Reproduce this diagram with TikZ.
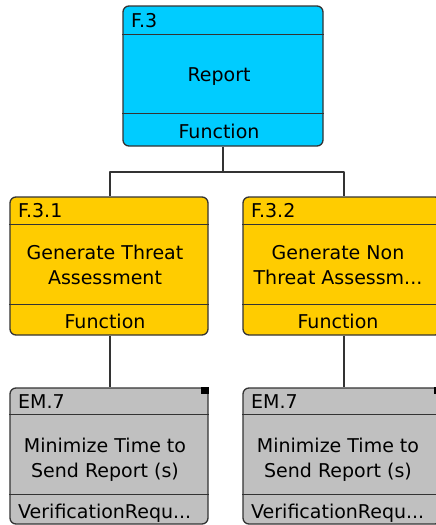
\documentclass[tikz,border=0pt]{standalone}
\usepackage{fontspec}
\setmainfont{DejaVu Sans}
\usetikzlibrary{positioning}
\definecolor{fncyan}{RGB}{0,204,255}
\definecolor{fnyellow}{RGB}{255,204,0}
\definecolor{emgray}{RGB}{192,192,192}
\definecolor{edgegray}{RGB}{51,51,51}

\begin{document}
\begin{tikzpicture}[x=1pt,y=-1pt,line join=bevel,
  fnbox/.style={draw=edgegray,line width=1.3pt,rounded corners=6pt,minimum width=198pt,inner sep=0pt},
  wire/.style={draw=edgegray,line width=1.3pt},
  txt/.style={inner sep=0pt,font=\fontsize{19}{25}\selectfont,align=center},
  idtxt/.style={txt,anchor=base west}]
%%
\useasboundingbox (0,0) rectangle (436,525);
\clip (0,0) rectangle (436,525);
%
\node (f_3) at (223,76) [fnbox,fill=fncyan,minimum width=200pt,minimum height=140pt] {};
  \node (f_3_1) at (109,266) [fnbox,fill=fnyellow,minimum height=138pt] {};
  \node (f_3_2) at (342,266) [fnbox,fill=fnyellow,minimum height=138pt] {};
  \node (em_7a) at (109,456) [fnbox,fill=emgray,minimum height=136pt] {};
  \node (em_7b) at (342,456) [fnbox,fill=emgray,minimum height=136pt] {};
%
\draw [wire] ([yshift=-29pt]f_3.north west) -- ([yshift=-29pt]f_3.north east);
  \draw [wire] ([yshift=33pt]f_3.south west) -- ([yshift=33pt]f_3.south east);
  \draw [wire] ([yshift=-28pt]f_3_1.north west) -- ([yshift=-28pt]f_3_1.north east);
  \draw [wire] ([yshift=31pt]f_3_1.south west) -- ([yshift=31pt]f_3_1.south east);
  \draw [wire] ([yshift=-28pt]f_3_2.north west) -- ([yshift=-28pt]f_3_2.north east);
  \draw [wire] ([yshift=31pt]f_3_2.south west) -- ([yshift=31pt]f_3_2.south east);
  \draw [wire] ([yshift=-27pt]em_7a.north west) -- ([yshift=-27pt]em_7a.north east);
  \draw [wire] ([yshift=30pt]em_7a.south west) -- ([yshift=30pt]em_7a.south east);
  \draw [wire] ([yshift=-27pt]em_7b.north west) -- ([yshift=-27pt]em_7b.north east);
  \draw [wire] ([yshift=30pt]em_7b.south west) -- ([yshift=30pt]em_7b.south east);
  \fill [black] ([xshift=-8pt,yshift=-7pt]em_7a.north east) rectangle (em_7a.north east);
  \fill [black] ([xshift=-8pt,yshift=-7pt]em_7b.north east) rectangle (em_7b.north east);
%
\node (f_3_id) at (131,27) [idtxt] {F.3};
  \node (f_3_name) at (219,77) [txt] {Report};
  \node (f_3_kind) at (219,131) [txt] {Function};
  \node (f_3_1_id) at (18,217) [idtxt] {F.3.1};
  \node (f_3_1_name) at (105,265) [txt] {Generate Threat\\Assessment};
  \node (f_3_1_kind) at (105,321) [txt] {Function};
  \node (f_3_2_id) at (251,217) [idtxt] {F.3.2};
  \node (f_3_2_name) at (338,265) [txt] {Generate Non\\Threat Assessm...};
  \node (f_3_2_kind) at (338,321) [txt] {Function};
  \node (em_7a_id) at (18,408) [idtxt] {EM.7};
  \node (em_7a_name) at (105,459.5) [txt] {Minimize Time to\\Send Report (s)};
  \node (em_7a_kind) at (18,518) [idtxt] {VerificationRequ...};
  \node (em_7b_id) at (251,408) [idtxt] {EM.7};
  \node (em_7b_name) at (338,459.5) [txt] {Minimize Time to\\Send Report (s)};
  \node (em_7b_kind) at (251,518) [idtxt] {VerificationRequ...};
%
\coordinate (split) at (223,172);
  \draw [wire] (f_3.south) -- (split) -| ([xshift=1pt]f_3_1.north);
  \draw [wire] (split) -| ([xshift=2pt]f_3_2.north);
  \draw [wire] ([xshift=1pt]f_3_1.south) -- ([xshift=1pt]em_7a.north);
  \draw [wire] ([xshift=2pt]f_3_2.south) -- ([xshift=2pt]em_7b.north);
%
\end{tikzpicture}
\end{document}
